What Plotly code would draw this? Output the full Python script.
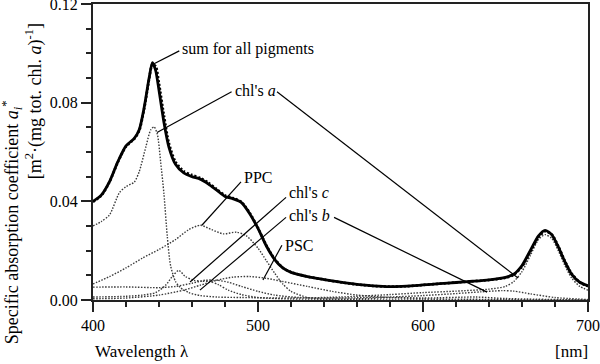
import plotly.graph_objects as go

# ---------------- data ----------------
sum_wl = [400, 405, 410, 415, 420, 425, 428, 431, 434, 436, 438, 440, 443, 446, 450, 455, 460, 465, 470,
          475, 480, 485, 490, 495, 500, 505, 510, 515, 520, 530, 540, 550, 560, 570, 580, 590, 600, 610,
          620, 630, 640, 650, 655, 660, 665, 670, 674, 678, 682, 686, 690, 695, 700]
sum_meas = [0.0400, 0.0425, 0.0480, 0.0560, 0.0625, 0.0655, 0.0690, 0.0780, 0.0900, 0.0962, 0.0930,
            0.0850, 0.0720, 0.0620, 0.0550, 0.0515, 0.0500, 0.0490, 0.0470, 0.0445, 0.0420, 0.0410,
            0.0395, 0.0350, 0.0290, 0.0220, 0.0165, 0.0130, 0.0112, 0.0095, 0.0083, 0.0072, 0.0063,
            0.0057, 0.0054, 0.0056, 0.0061, 0.0066, 0.0071, 0.0076, 0.0082, 0.0092, 0.0105, 0.0140,
            0.0200, 0.0260, 0.0282, 0.0265, 0.0215, 0.0155, 0.0105, 0.0072, 0.0058]
sum_calc = [0.0398, 0.0423, 0.0478, 0.0558, 0.0622, 0.0653, 0.0686, 0.0775, 0.0895, 0.0955, 0.0948,
            0.0878, 0.0748, 0.0636, 0.0560, 0.0522, 0.0507, 0.0495, 0.0475, 0.0449, 0.0424, 0.0413,
            0.0397, 0.0353, 0.0292, 0.0222, 0.0167, 0.0131, 0.0113, 0.0095, 0.0083, 0.0072, 0.0063,
            0.0057, 0.0054, 0.0056, 0.0061, 0.0066, 0.0071, 0.0076, 0.0081, 0.0090, 0.0102, 0.0135,
            0.0195, 0.0255, 0.0278, 0.0266, 0.0218, 0.0158, 0.0108, 0.0072, 0.0055]

chla_wl = [400, 405, 410, 416, 420, 425, 428, 432, 435, 437, 439, 441, 443, 445, 447, 450, 453, 458,
           465, 475, 490, 520, 550, 580, 600, 620, 640, 650, 655, 660, 665, 670, 674, 678, 682, 686,
           690, 695, 700]
chla = [0.0300, 0.0318, 0.0345, 0.0435, 0.0460, 0.0478, 0.0520, 0.0620, 0.0690, 0.0702, 0.0672,
        0.0560, 0.0430, 0.0260, 0.0140, 0.0075, 0.0050, 0.0030, 0.0018, 0.0012, 0.0010, 0.0008,
        0.0012, 0.0022, 0.0030, 0.0036, 0.0044, 0.0055, 0.0075, 0.0115, 0.0180, 0.0245, 0.0265,
        0.0250, 0.0200, 0.0140, 0.0090, 0.0055, 0.0040]

ppc_wl = [400, 410, 420, 430, 440, 450, 458, 465, 472, 479, 487, 493, 500, 505, 510, 515, 520, 530,
          540, 560, 600, 700]
ppc = [0.0065, 0.0095, 0.0130, 0.0170, 0.0205, 0.0245, 0.0285, 0.0303, 0.0285, 0.0268, 0.0275,
       0.0260, 0.0210, 0.0160, 0.0110, 0.0065, 0.0035, 0.0010, 0.0003, 0.0001, 0.0000, 0.0000]

chlc_wl = [400, 420, 430, 438, 444, 448, 452, 456, 461, 466, 471, 476, 482, 490, 500, 520, 560, 585,
           600, 632, 650, 700]
chlc = [0.0012, 0.0015, 0.0020, 0.0030, 0.0060, 0.0095, 0.0120, 0.0095, 0.0080, 0.0076, 0.0075,
        0.0062, 0.0040, 0.0022, 0.0010, 0.0004, 0.0005, 0.0010, 0.0008, 0.0012, 0.0006, 0.0000]

chlb_wl = [400, 420, 440, 450, 460, 468, 475, 482, 490, 500, 510, 525, 550, 580, 600, 620, 635, 648,
           655, 665, 680, 700]
chlb = [0.0052, 0.0053, 0.0050, 0.0055, 0.0068, 0.0080, 0.0080, 0.0072, 0.0055, 0.0035, 0.0020,
        0.0010, 0.0008, 0.0012, 0.0018, 0.0026, 0.0033, 0.0038, 0.0036, 0.0025, 0.0010, 0.0002]

psc_wl = [400, 420, 440, 455, 465, 475, 485, 495, 505, 515, 530, 545, 560, 580, 600, 650, 700]
psc = [0.0005, 0.0008, 0.0020, 0.0040, 0.0060, 0.0080, 0.0093, 0.0095, 0.0088, 0.0075, 0.0055,
       0.0035, 0.0020, 0.0010, 0.0005, 0.0002, 0.0000]

x_ticks = [400, 500, 600, 700]
y_ticks = [0.0, 0.04, 0.08, 0.12]

# labels: text, text x, text y, leader endpoints [(x0, y0, x1, y1), ...]
labels = [
    ("sum for all pigments", 452.7, 0.1018, [(452.3, 0.1010, 437.0, 0.0958)]),
    ("chl's <i>a</i>", 484.8, 0.0848, [(484.0, 0.0844, 438.8, 0.0679),
                                        (511.5, 0.0844, 657.6, 0.0089)]),
    ("PPC", 490.3, 0.0497, [(489.7, 0.0479, 466.0, 0.0303)]),
    ("chl's <i>c</i>", 517.6, 0.0436, [(517.0, 0.0416, 458.8, 0.0073)]),
    ("chl's <i>b</i>", 517.6, 0.0344, [(517.0, 0.0335, 464.8, 0.0040),
                                        (546.1, 0.0335, 638.8, 0.0032)]),
    ("PSC", 515.0, 0.0222, [(514.5, 0.0222, 503.0, 0.0081)]),
]

FONT = "Liberation Serif"
comp_style = dict(color="#3a3a3a", width=1.4, dash="1.5px,1.5px", shape="spline", smoothing=0.7)

fig = go.Figure()
for wl, vals in [(chla_wl, chla), (ppc_wl, ppc), (chlc_wl, chlc), (chlb_wl, chlb), (psc_wl, psc)]:
    fig.add_trace(go.Scatter(x=wl, y=vals, mode="lines", line=comp_style, hoverinfo="skip"))
fig.add_trace(go.Scatter(x=sum_wl, y=sum_calc, mode="lines",
                         line=dict(color="#000", width=2.6, dash="2px,2px", shape="spline", smoothing=0.7)))
fig.add_trace(go.Scatter(x=sum_wl, y=sum_meas, mode="lines",
                         line=dict(color="#000", width=2.8, shape="spline", smoothing=0.7)))

for text, tx, ty, leaders in labels:
    fig.add_annotation(x=tx, y=ty, text=text, showarrow=False, xanchor="left", yanchor="middle",
                       font=dict(family=FONT, size=16, color="black"), xref="x", yref="y")
    for (x0, y0, x1, y1) in leaders:
        fig.add_shape(type="line", x0=x0, y0=y0, x1=x1, y1=y1, xref="x", yref="y",
                      line=dict(color="black", width=1.2))

# axis titles
fig.add_annotation(xref="paper", yref="paper", x=-0.164, y=0.262, textangle=-90, showarrow=False,
                   text="Specific absorption coefficient <i>a<sub>i</sub></i><sup>*</sup>",
                   font=dict(family=FONT, size=18, color="black"), xanchor="center", yanchor="middle")
fig.add_annotation(xref="paper", yref="paper", x=-0.119, y=0.672, textangle=-90, showarrow=False,
                   text="[m<sup>2</sup>·(mg tot. chl. <i>a</i>)<sup>-1</sup>]",
                   font=dict(family=FONT, size=18, color="black"), xanchor="center", yanchor="middle")
fig.add_annotation(xref="paper", yref="paper", x=0.0, y=-0.175, showarrow=False, text="Wavelength λ",
                   font=dict(family=FONT, size=17, color="black"), xanchor="left", yanchor="middle")
fig.add_annotation(xref="paper", yref="paper", x=1.004, y=-0.175, showarrow=False, text="[nm]",
                   font=dict(family=FONT, size=17, color="black"), xanchor="right", yanchor="middle")

fig.update_layout(
    width=600, height=364,
    margin=dict(l=93, r=12, t=4, b=64, autoexpand=False),
    paper_bgcolor="white", plot_bgcolor="white",
    showlegend=False,
    font=dict(family=FONT, size=16, color="black"),
    xaxis=dict(range=[400, 700], tickvals=x_ticks, ticks="outside", ticklen=10, tickwidth=1.5,
               tickcolor="#222", showline=True, linewidth=2, linecolor="#222", mirror=True,
               showgrid=False, zeroline=False, automargin=False, ticklabeloverflow="allow",
               minor=dict(dtick=20, ticks="outside", ticklen=5, tickwidth=1.5, tickcolor="#222", showgrid=False)),
    yaxis=dict(range=[0, 0.12], tickvals=y_ticks, tickformat=".2f", ticks="outside", ticklen=10,
               tickwidth=1.5, tickcolor="#222", showline=True, linewidth=2, linecolor="#222",
               mirror=True, showgrid=False, zeroline=False, automargin=False, ticklabeloverflow="allow",
               minor=dict(dtick=0.01, ticks="outside", ticklen=5, tickwidth=1.5, tickcolor="#222", showgrid=False)),
)

fig.write_html("out.html", config={"displayModeBar": False},
               post_script="document.body.style.margin='0';document.body.style.overflow='hidden';")
